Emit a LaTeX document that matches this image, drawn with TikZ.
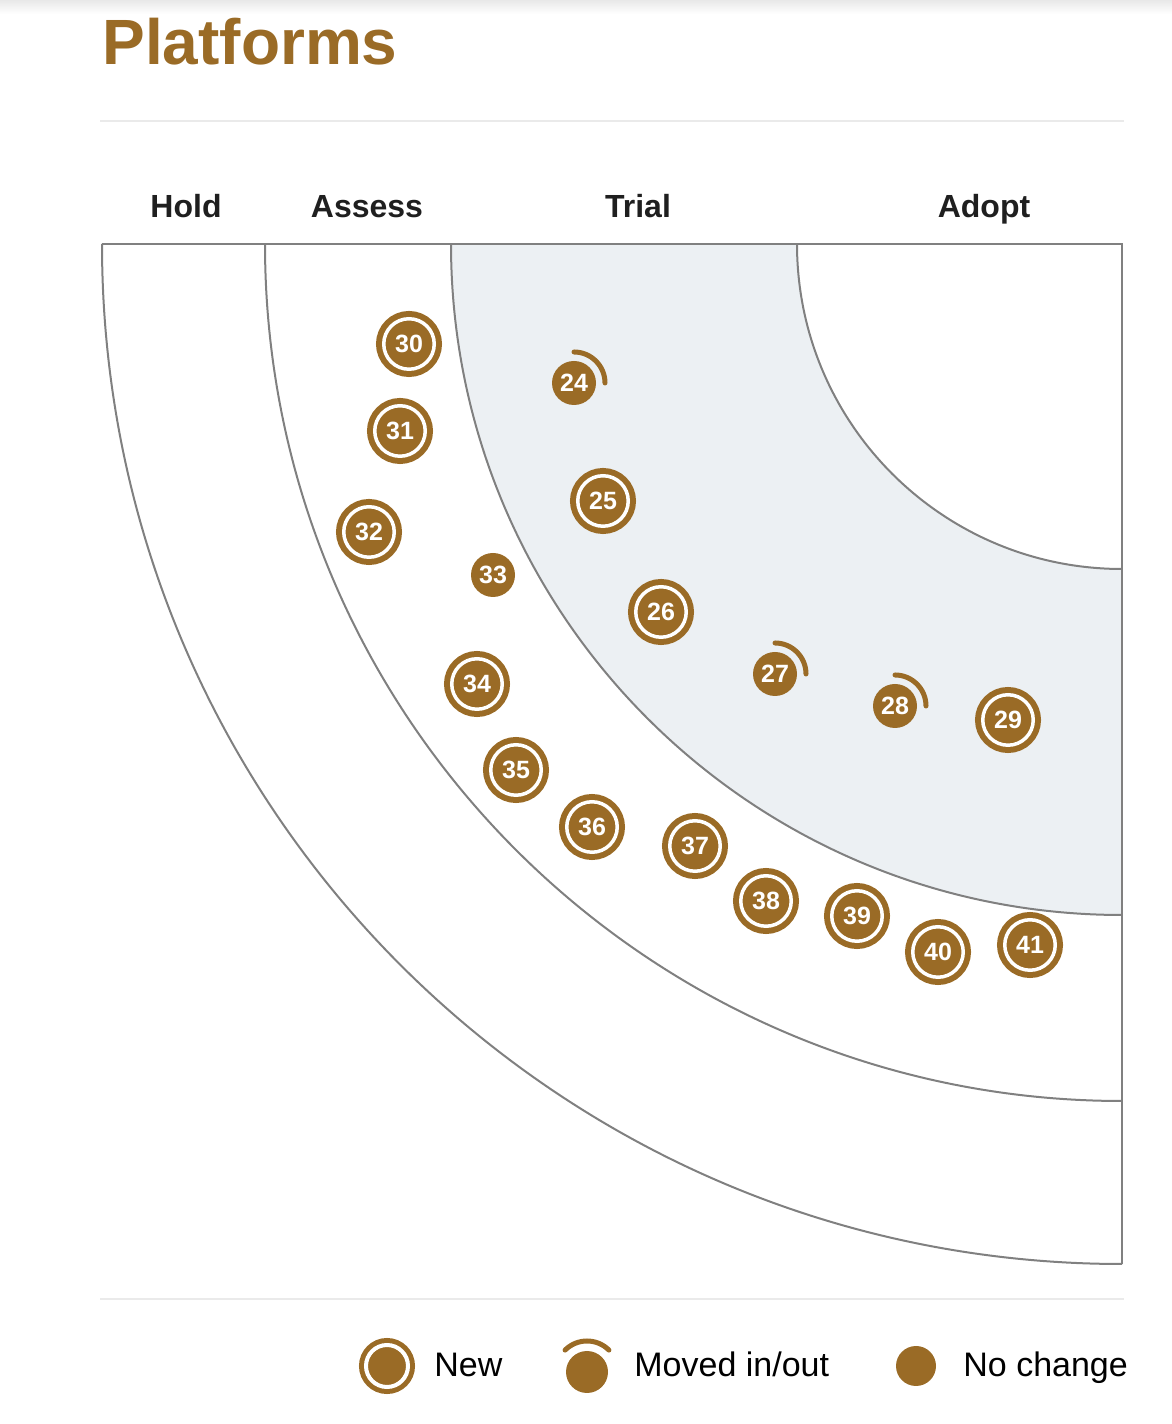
\documentclass[tikz,border=0pt]{standalone}
\usepackage{fontspec}
\setmainfont{Liberation Sans}
\usetikzlibrary{positioning}
\definecolor{radarbrown}{RGB}{154,107,38}
\definecolor{ringgray}{RGB}{128,128,128}
\definecolor{trialfill}{RGB}{236,240,243}
\definecolor{rulegray}{RGB}{234,234,234}

\begin{document}
\begin{tikzpicture}[x=0.5pt, y=0.5pt,
    ring/.style={draw=ringgray, line width=1pt},
    sepline/.style={draw=rulegray, line width=1pt},
    blip/.style={circle, fill=radarbrown, inner sep=0pt, minimum size=22pt, text=white, font=\bfseries\fontsize{12.5}{13}\selectfont},
    newblip/.style={blip, minimum size=25.25pt, draw=radarbrown, line width=3pt, double=white, double distance=1.75pt},
    movearc/.style={draw=radarbrown, line width=2.5pt, line cap=round},
    ringlabel/.style={font=\bfseries\fontsize{16}{19}\selectfont, text=black!88, anchor=base},
    legtext/.style={font=\fontsize{17}{20}\selectfont, anchor=base west, inner sep=0pt}]
    \useasboundingbox (0,0) rectangle (1172,1424);
    \shade[top color=black!9, bottom color=white] (0,1410) rectangle (1172,1424);

    % title and rules
    \node[anchor=base west, inner sep=0pt, text=radarbrown, font=\bfseries\fontsize{32}{38}\selectfont] (title) at (102,1359) {Platforms};
    \coordinate (rtl) at (100,1303);
    \coordinate (rtr) at (1124,1303);
    \coordinate (rbl) at (100,125);
    \coordinate (rbr) at (1124,125);
    \draw[sepline] (rtl) -- (rtr);
    \draw[sepline] (rbl) -- (rbr);

    % ring names
    \node[ringlabel] (hold)   at (186,1206) {Hold};
    \node[ringlabel] (assess) at (367,1206) {Assess};
    \node[ringlabel] (trial)  at (638,1206) {Trial};
    \node[ringlabel] (adopt)  at (984,1206) {Adopt};

    % quadrant
    \coordinate (ctr) at (1122,1180);
    \fill[trialfill] (ctr) ++(-671,0) arc[start angle=180, end angle=270, radius=671]
        -- ++(0,346) arc[start angle=270, end angle=180, radius=325] -- cycle;
    \draw[ring] (ctr) ++(-325,0) arc[start angle=180, end angle=270, radius=325];
    \draw[ring] (ctr) ++(-671,0) arc[start angle=180, end angle=270, radius=671];
    \draw[ring] (ctr) ++(-857,0) arc[start angle=180, end angle=270, radius=857];
    \draw[ring] (ctr) ++(-1020,0) arc[start angle=180, end angle=270, radius=1020];
    \draw[ring] (ctr) ++(-1020,0) -- (ctr) -- ++(0,-1020);

    % trial
    \node[blip]    (b24) at (574,1041) {24};
    \node[newblip] (b25) at (603,923)  {25};
    \node[newblip] (b26) at (661,812)  {26};
    \node[blip]    (b27) at (775,750)  {27};
    \node[blip]    (b28) at (895,718)  {28};
    \node[newblip] (b29) at (1008,704) {29};
    \draw[movearc] (b24.center) ++(31,0) arc[start angle=0, end angle=90, radius=31];
    \draw[movearc] (b27.center) ++(31,0) arc[start angle=0, end angle=90, radius=31];
    \draw[movearc] (b28.center) ++(31,0) arc[start angle=0, end angle=90, radius=31];

    % assess
    \node[newblip] (b30) at (409,1080) {30};
    \node[newblip] (b31) at (400,993)  {31};
    \node[newblip] (b32) at (369,892)  {32};
    \node[blip]    (b33) at (493,849)  {33};
    \node[newblip] (b34) at (477,740)  {34};
    \node[newblip] (b35) at (516,654)  {35};
    \node[newblip] (b36) at (592,597)  {36};
    \node[newblip] (b37) at (695,578)  {37};
    \node[newblip] (b38) at (766,523)  {38};
    \node[newblip] (b39) at (857,508)  {39};
    \node[newblip] (b40) at (938,472)  {40};
    \node[newblip] (b41) at (1030,479) {41};

    % legend
    \node[blip, minimum size=21pt, draw=radarbrown, line width=2.5pt, double=white, double distance=2pt] (lnew) at (387,58) {};
    \node[legtext] (tnew) at (434,47) {New};
    \node[blip, minimum size=21pt] (lmoved) at (587,52) {};
    \draw[movearc] (lmoved.center) ++(45:31) arc[start angle=45, end angle=135, radius=31];
    \node[legtext] (tmoved) at (634,47) {Moved in/out};
    \node[blip, minimum size=20pt] (lsame) at (916,58) {};
    \node[legtext] (tsame) at (963,47) {No change};
\end{tikzpicture}
\end{document}
